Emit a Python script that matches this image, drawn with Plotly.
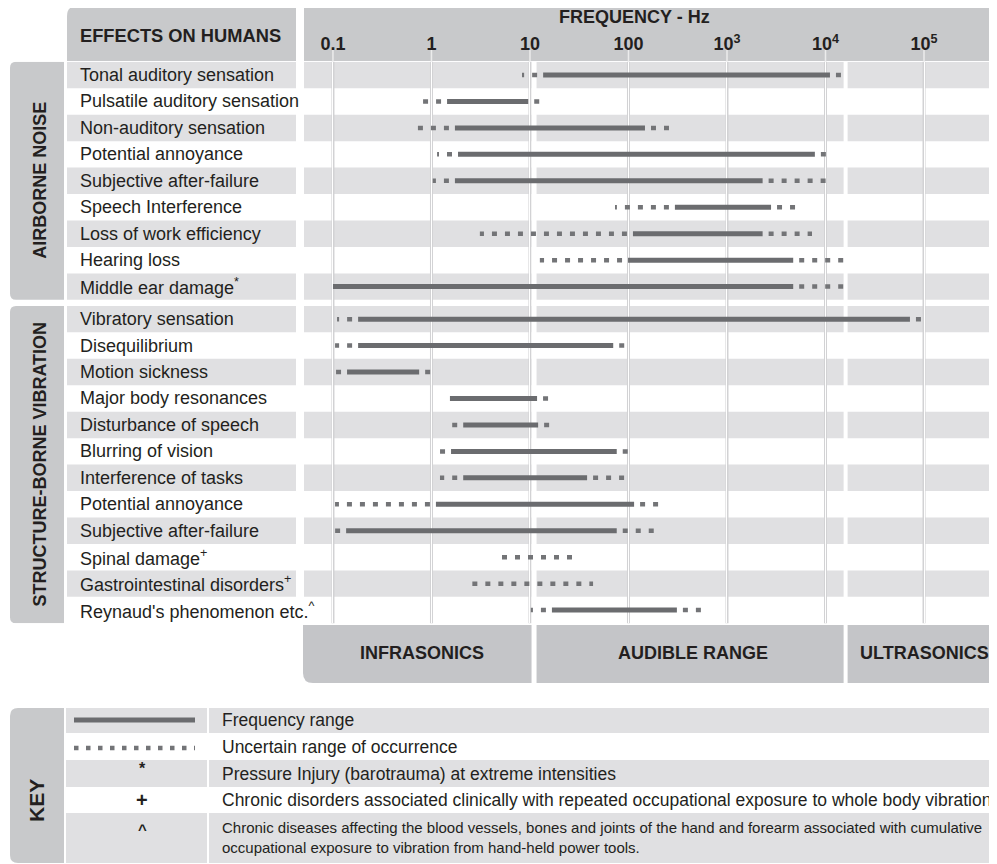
import math
import plotly.graph_objects as go

# ---------------- data (frequencies in Hz) ----------------
airborne_effects = [
    "Tonal auditory sensation", "Pulsatile auditory sensation", "Non-auditory sensation",
    "Potential annoyance", "Subjective after-failure", "Speech Interference",
    "Loss of work efficiency", "Hearing loss", "Middle ear damage<sup>*</sup>",
]
airborne_uncertain_low = [8.3, 0.78, 0.71, 1.14, 1.03, 73, 3.1, 12.6, None]
airborne_range_low = [13.6, 1.44, 1.73, 1.86, 1.73, 296, 111, 99, 0.1]
airborne_range_high = [11100, 9.6, 147, 7800, 2300, 2800, 2300, 4700, 4700]
airborne_uncertain_high = [15100, 12.6, 263, 10400, 10400, 5100, 7300, 15800, 15800]

structure_effects = [
    "Vibratory sensation", "Disequilibrium", "Motion sickness", "Major body resonances",
    "Disturbance of speech", "Blurring of vision", "Interference of tasks",
    "Potential annoyance", "Subjective after-failure", "Spinal damage<sup>+</sup>",
    "Gastrointestinal disorders<sup>+</sup>", "Reynaud's phenomenon etc.<sup>^</sup>",
]
structure_uncertain_low = [0.11, 0.105, 0.105, None, 1.54, 1.19, 1.22, 0.105, 0.102, 5.2, 2.6, 10.2]
structure_range_low = [0.18, 0.18, 0.139, 1.54, 2.1, 1.58, 2.1, 1.11, 0.136, None, None, 16.7]
structure_range_high = [72000, 70, 0.75, 11.8, 12.1, 76, 38, 114, 76, None, None, 310]
structure_uncertain_high = [95000, 94, 1.0, 16, 16.3, 99, 94, 214, 182, 26.7, 43.7, 557]

group_names = ["AIRBORNE NOISE", "STRUCTURE-BORNE VIBRATION"]

tick_values = [0.1, 1, 10, 100, 1000, 10000, 100000]
tick_labels = ["0.1", "1", "10", "100", "10<sup>3</sup>", "10<sup>4</sup>", "10<sup>5</sup>"]

range_names = ["INFRASONICS", "AUDIBLE RANGE", "ULTRASONICS"]
range_limits_hz = [11, 16000]

key_symbols = ["", "", "*", "+", "^"]
key_labels = [
    "Frequency range",
    "Uncertain range of occurrence",
    "Pressure Injury (barotrauma) at extreme intensities",
    "Chronic disorders associated clinically with repeated occupational exposure to whole body vibration",
    "Chronic diseases affecting the blood vessels, bones and joints of the hand and forearm associated with cumulative<br>occupational exposure to vibration from hand-held power tools.",
]

# ---------------- styling / layout constants ----------------
W, H = 997, 864
OFF = 8          # page body margin: figure sits at (8, 8) in the window
FONT = "Liberation Sans"
TXT = "#231f20"
BAR = "#6b6c6f"
DOT = "#737477"
BAND = "#e0e0e2"
HEAD = "#c8c9cb"
BOTTOM = "#c4c5c8"
GRIDGREY = "#d2d2d4"

X_LOG_MIN, X_LOG_MAX = -1.294, 5.741
PLOT_LEFT, PLOT_RIGHT = 304, 997
ROW_TOP, ROW_BOT = 61.8, 623.3
GAP = 0.23


def px(x):
    return (x - OFF) / W


def py(y):
    return 1 - (y - OFF) / H


def rr_path(x0, y0, x1, y1, tl=0, tr=0, br=0, bl=0, yconv=None, ry=1.0):
    """Rounded rectangle path; x in window pixels -> paper, y via yconv."""
    if yconv is None:
        yconv = py
    def P(x, y):
        return f"{px(x):.5f},{yconv(y):.5f}"
    d = (f"M {P(x0 + tl, y0)} L {P(x1 - tr, y0)} Q {P(x1, y0)} {P(x1, y0 + tr * ry)} "
         f"L {P(x1, y1 - br * ry)} Q {P(x1, y1)} {P(x1 - br, y1)} "
         f"L {P(x0 + bl, y1)} Q {P(x0, y1)} {P(x0, y1 - bl * ry)} "
         f"L {P(x0, y0 + tl * ry)} Q {P(x0, y0)} {P(x0 + tl, y0)} Z")
    return d


n_air = len(airborne_effects)
ypos_air = [float(i) for i in range(n_air)]
ypos_str = [n_air + GAP + j for j in range(len(structure_effects))]
effects = airborne_effects + structure_effects
ypos = ypos_air + ypos_str
grey_flags = [i % 2 == 0 for i in range(n_air)] + [j % 2 == 0 for j in range(len(structure_effects))]
u_lo = airborne_uncertain_low + structure_uncertain_low
s_lo = airborne_range_low + structure_range_low
s_hi = airborne_range_high + structure_range_high
u_hi = airborne_uncertain_high + structure_uncertain_high

Y_MIN, Y_MAX = -0.5, ypos[-1] + 0.5
pitch = (ROW_BOT - ROW_TOP) / (Y_MAX - Y_MIN)

fig = go.Figure()

DOT_AWAY = "0px,6px,5px,2px"
DOT_PLAIN = "5px,8px"

for y, a, b, c, d in zip(ypos, u_lo, s_lo, s_hi, u_hi):
    if b is not None:
        fig.add_trace(go.Scatter(x=[b, c], y=[y, y], mode="lines",
                                 line=dict(color=BAR, width=5), hoverinfo="skip"))
        if a is not None:
            fig.add_trace(go.Scatter(x=[b, a], y=[y, y], mode="lines",
                                     line=dict(color=DOT, width=4.5, dash=DOT_AWAY), hoverinfo="skip"))
        if d is not None:
            fig.add_trace(go.Scatter(x=[c, d], y=[y, y], mode="lines",
                                     line=dict(color=DOT, width=4.5, dash=DOT_AWAY), hoverinfo="skip"))
    else:
        fig.add_trace(go.Scatter(x=[a, d], y=[y, y], mode="lines",
                                 line=dict(color=DOT, width=4.5, dash=DOT_PLAIN), hoverinfo="skip"))

shapes = []
# header boxes
shapes.append(dict(type="path", xref="paper", yref="paper", layer="below", line=dict(width=0),
                   fillcolor=HEAD, path=rr_path(67, 6, 296, 61, tl=10)))
shapes.append(dict(type="path", xref="paper", yref="paper", layer="below", line=dict(width=0),
                   fillcolor=HEAD, path=rr_path(304, 6, 997, 61, tr=10)))

# group boxes (y in data units)
ident = lambda v: v
groups_rows = [ypos_air, ypos_str]
for rows in groups_rows:
    shapes.append(dict(type="path", xref="paper", yref="y", layer="below", line=dict(width=0),
                       fillcolor=HEAD,
                       path=rr_path(10, rows[0] - 0.5, 64, rows[-1] + 0.5, tl=6, bl=6,
                                    yconv=ident, ry=1.0 / pitch)))

# row bands
for y, g in zip(ypos, grey_flags):
    if g:
        shapes.append(dict(type="rect", xref="paper", yref="y", layer="below", line=dict(width=0),
                           fillcolor=BAND, x0=px(67), x1=px(296), y0=y - 0.5, y1=y + 0.5))
        shapes.append(dict(type="rect", xref="paper", yref="y", layer="below", line=dict(width=0),
                           fillcolor=BAND, x0=px(PLOT_LEFT), x1=1, y0=y - 0.5, y1=y + 0.5))

# grey grid lines (white core drawn by the axis gridlines) + light tick marks in header
for f in tick_values:
    shapes.append(dict(type="line", xref="x", yref="paper", layer="below",
                       x0=f, x1=f, y0=py(ROW_BOT), y1=py(ROW_TOP),
                       line=dict(color=GRIDGREY, width=3)))
    shapes.append(dict(type="line", xref="x", yref="paper", layer="below",
                       x0=f, x1=f, y0=py(61), y1=py(50),
                       line=dict(color="#ececec", width=1.5)))

# bottom range band
shapes.append(dict(type="path", xref="paper", yref="paper", layer="below", line=dict(width=0),
                   fillcolor=BOTTOM, path=rr_path(303, 625, 997, 683, bl=10, br=10)))

# white dividers at range limits
for f, wdt in zip(range_limits_hz, [5, 4]):
    shapes.append(dict(type="line", xref="x", yref="paper", layer="below",
                       x0=f, x1=f, y0=py(684), y1=py(ROW_TOP),
                       line=dict(color="white", width=wdt)))

# key
KEY_ROWS = [(708, 733), (733, 760), (760, 787), (787, 813), (813, 863)]
shapes.append(dict(type="path", xref="paper", yref="paper", layer="below", line=dict(width=0),
                   fillcolor=HEAD, path=rr_path(10, 708, 64, 863, tl=8, bl=8)))
for i, (t, b) in enumerate(KEY_ROWS):
    if i % 2 == 0:
        shapes.append(dict(type="rect", xref="paper", yref="paper", layer="below", line=dict(width=0),
                           fillcolor=BAND, x0=px(66), x1=px(207), y0=py(b), y1=py(t)))
        shapes.append(dict(type="rect", xref="paper", yref="paper", layer="below", line=dict(width=0),
                           fillcolor=BAND, x0=px(209), x1=1, y0=py(b), y1=py(t)))
shapes.append(dict(type="line", xref="paper", yref="paper", x0=px(74), x1=px(195),
                   y0=py(720), y1=py(720), line=dict(color=BAR, width=5)))
shapes.append(dict(type="line", xref="paper", yref="paper", x0=px(74), x1=px(195),
                   y0=py(748), y1=py(748), line=dict(color=DOT, width=4.5, dash="4.5px,7.5px")))

annotations = []
for name, y in zip(effects, ypos):
    annotations.append(dict(text=name, xref="paper", yref="y", x=px(78), y=y, xanchor="left",
                            yanchor="middle", showarrow=False,
                            font=dict(family=FONT, size=18, color=TXT)))
for name, rows in zip(group_names, groups_rows):
    annotations.append(dict(text=f"<b>{name}</b>", xref="paper", yref="y", x=px(40),
                            y=sum(rows) / len(rows), textangle=-90, showarrow=False,
                            xanchor="center", yanchor="middle",
                            font=dict(family=FONT, size=18, color=TXT)))
annotations.append(dict(text="<b>EFFECTS ON HUMANS</b>", xref="paper", yref="paper", x=px(78), y=py(35),
                        xanchor="left", yanchor="middle", showarrow=False,
                        font=dict(family=FONT, size=18.3, color=TXT)))
annotations.append(dict(text="<b>FREQUENCY - Hz</b>", xref="paper", yref="paper", x=px(634), y=py(17),
                        xanchor="center", yanchor="middle", showarrow=False,
                        font=dict(family=FONT, size=18, color=TXT)))

bounds = [X_LOG_MIN] + [math.log10(v) for v in range_limits_hz] + [X_LOG_MAX]
for i, name in enumerate(range_names):
    annotations.append(dict(text=f"<b>{name}</b>", xref="x", yref="paper",
                            x=(bounds[i] + bounds[i + 1]) / 2 + 0.03, y=py(653),
                            xanchor="center", yanchor="middle", showarrow=False,
                            font=dict(family=FONT, size=18, color=TXT)))

annotations.append(dict(text="<b>KEY</b>", xref="paper", yref="paper", x=px(36), y=py(801),
                        textangle=-90, showarrow=False, xanchor="center", yanchor="middle",
                        font=dict(family=FONT, size=21, color=TXT)))
sym_y = [720, 748, 768, 800, 829]
sym_size = [16, 16, 16, 20, 15]
for s, yy, sz in zip(key_symbols, sym_y, sym_size):
    if s:
        annotations.append(dict(text=f"<b>{s}</b>", xref="paper", yref="paper", x=px(142), y=py(yy),
                                xanchor="center", yanchor="middle", showarrow=False,
                                font=dict(family=FONT, size=sz, color=TXT)))
label_y = [720, 747, 774, 800, 837]
label_size = [17.5, 17.5, 17.5, 17.5, 15]
for lab, yy, sz in zip(key_labels, label_y, label_size):
    annotations.append(dict(text=lab, xref="paper", yref="paper", x=px(220), y=py(yy),
                            xanchor="left", yanchor="middle", align="left", showarrow=False,
                            font=dict(family=FONT, size=sz, color=TXT)))

fig.update_layout(
    width=W, height=H, autosize=False,
    margin=dict(l=0, r=0, t=0, b=0, pad=0),
    paper_bgcolor="white", plot_bgcolor="rgba(0,0,0,0)",
    showlegend=False, hovermode=False,
    xaxis=dict(type="log", range=[X_LOG_MIN, X_LOG_MAX], domain=[px(PLOT_LEFT), px(PLOT_RIGHT)],
               side="top", tickvals=tick_values, ticktext=tick_labels, ticks="",
               ticklabelstandoff=7,
               tickfont=dict(family=FONT, size=18, color=TXT, weight="bold"),
               showgrid=True, gridcolor="white", gridwidth=1.2, zeroline=False, showline=False,
               fixedrange=True, anchor="y"),
    yaxis=dict(range=[Y_MAX, Y_MIN], domain=[py(ROW_BOT), py(ROW_TOP)], visible=False,
               showgrid=False, zeroline=False, fixedrange=True),
    shapes=shapes, annotations=annotations,
    font=dict(family=FONT, color=TXT),
)

fig.write_html("out.html")
